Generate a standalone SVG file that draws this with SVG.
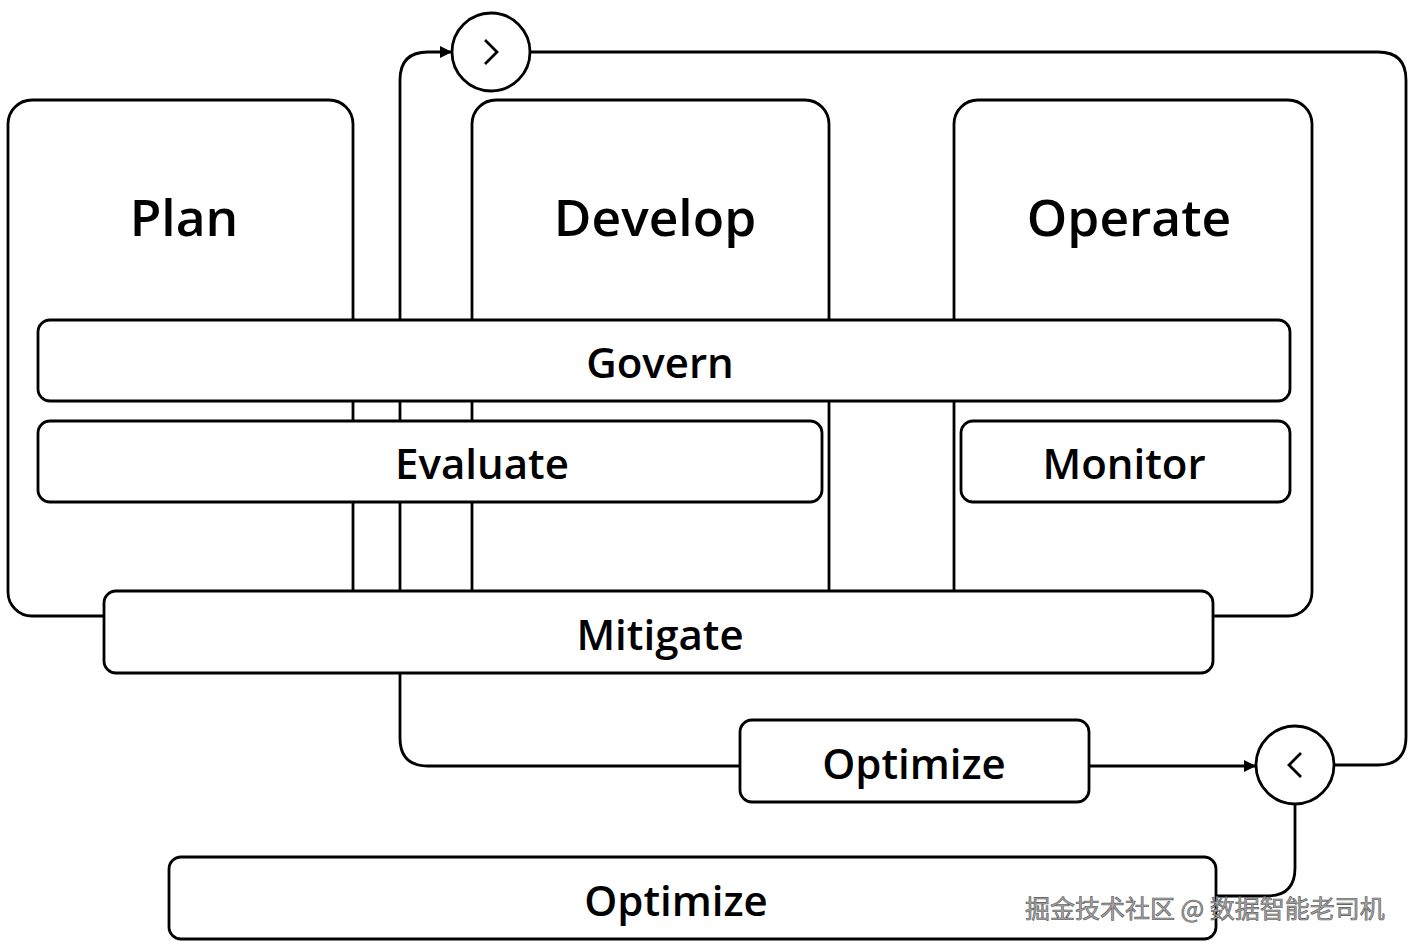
<svg xmlns="http://www.w3.org/2000/svg" width="1411" height="949" viewBox="0 0 1411 949">
<style>
.box{fill:#fff;stroke:#000;stroke-width:2.8}
.bar{fill:#fff;stroke:#000;stroke-width:2.8}
.ln{fill:none;stroke:#000;stroke-width:2.8}
.t{font-family:"Open Sans","Noto Sans",sans-serif;font-weight:600;fill:#000;text-anchor:middle}
.big{font-size:51.5px}
.mid{font-size:42px}
.wm{font-family:"Noto Sans CJK SC",sans-serif;font-size:25px;fill:#a8a8a8;stroke:#555;stroke-width:0.6}
</style>
<defs>
<marker id="ah" viewBox="0 0 12 12" refX="12" refY="6" markerWidth="12" markerHeight="12" markerUnits="userSpaceOnUse" orient="auto">
<path d="M0,0 L12,6 L0,12 z" fill="#000"/>
</marker>
</defs>
<g id="plan"><rect class="box" x="8" y="100" width="345" height="516" rx="24"/><text class="t big" x="184" y="236">Plan</text></g>
<g id="develop"><rect class="box" x="472" y="100" width="357" height="516" rx="24"/><text class="t big" x="655" y="236">Develop</text></g>
<g id="operate"><rect class="box" x="954" y="100" width="358" height="516" rx="24"/><text class="t big" x="1129" y="236">Operate</text></g>
<g id="connectors">
<path class="ln" d="M400,591 L400,80 Q400,52 428,52 L452,52" marker-end="url(#ah)"/>
<path class="ln" d="M530,52 L1378,52 Q1406,52 1406,80 L1406,737 Q1406,765 1378,765 L1334,765"/>
<path class="ln" d="M1295,804 L1295,868 Q1295,896 1267,896 L1216,896"/>
<path class="ln" d="M400,673 L400,738 Q400,766 428,766 L740,766"/>
<path class="ln" d="M1089,766 L1256,766" marker-end="url(#ah)"/>
</g>
<g id="circle-next"><circle class="box" cx="491" cy="52" r="39"/><path class="ln" d="M485,40 L497,52 L485,64"/></g>
<g id="circle-back"><circle class="box" cx="1295" cy="765" r="39"/><path class="ln" d="M1301,753 L1289,765 L1301,777"/></g>
<g id="govern"><rect class="bar" x="38" y="320" width="1252" height="81" rx="12"/><text class="t mid" x="660" y="378">Govern</text></g>
<g id="evaluate"><rect class="bar" x="38" y="421" width="784" height="81" rx="12"/><text class="t mid" x="482" y="479">Evaluate</text></g>
<g id="monitor"><rect class="bar" x="961" y="421" width="329" height="81" rx="12"/><text class="t mid" x="1124" y="479">Monitor</text></g>
<g id="mitigate"><rect class="bar" x="104" y="591" width="1109" height="82" rx="12"/><text class="t mid" x="660" y="650">Mitigate</text></g>
<g id="optimize1"><rect class="bar" x="740" y="720" width="349" height="82" rx="12"/><text class="t mid" x="914" y="779">Optimize</text></g>
<g id="optimize2"><rect class="bar" x="169" y="857" width="1047" height="82" rx="12"/><text class="t mid" x="676" y="916">Optimize</text></g>
<text class="wm" x="1025" y="918">掘金技术社区 @ 数据智能老司机</text>
</svg>
